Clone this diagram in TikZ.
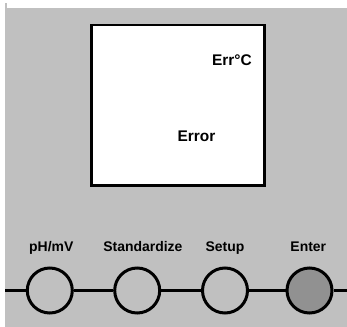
\documentclass[tikz,border=0pt]{standalone}
\usepackage{fontspec}
\setmainfont{Liberation Sans}
\definecolor{panel}{HTML}{C0C0C0}
\definecolor{pressed}{HTML}{919191}
\begin{document}
\begin{tikzpicture}
[x=1bp,y=-1bp,every node/.style={inner sep=0pt,font=\bfseries\fontsize{14}{16}\selectfont},
 readout/.style={font=\bfseries\fontsize{15.5}{18}\selectfont},
 button/.style={circle,draw=black,line width=3bp,minimum size=45bp}]
\useasboundingbox (0,0) rectangle (347,327);
\fill[panel] (5,8) rectangle (347,327);
\fill[panel] (5,3) rectangle (7,8);
% display
\node[draw=black,line width=2.25bp,fill=white,minimum width=173bp,minimum height=160.5bp] (screen) at (178,105.25) {};
\node[readout,anchor=base east] (unit) at (252,65) {Err°C};
\node[readout,anchor=base] (msg) at (196.5,141) {Error};
% keys
\foreach \x/\name/\col in {49.8/phmv/panel,137.2/std/panel,225/setup/panel,309.5/enter/pressed}
{
  \node[button,fill=\col] (\name) at (\x,290.5) {};
}
\node[anchor=base] (lphmv) at (51.3,251) {pH/mV};
\node[anchor=base] (lstd) at (142.9,251) {Standardize};
\node[anchor=base] (lsetup) at (225,251) {Setup};
\node[anchor=base] (lenter) at (308.3,251) {Enter};
\coordinate (west) at (5,290.5);
\coordinate (east) at (347,290.5);
\draw[line width=3bp] (west) -- (phmv) -- (std) -- (setup) -- (enter) -- (east);
\end{tikzpicture}
\end{document}
